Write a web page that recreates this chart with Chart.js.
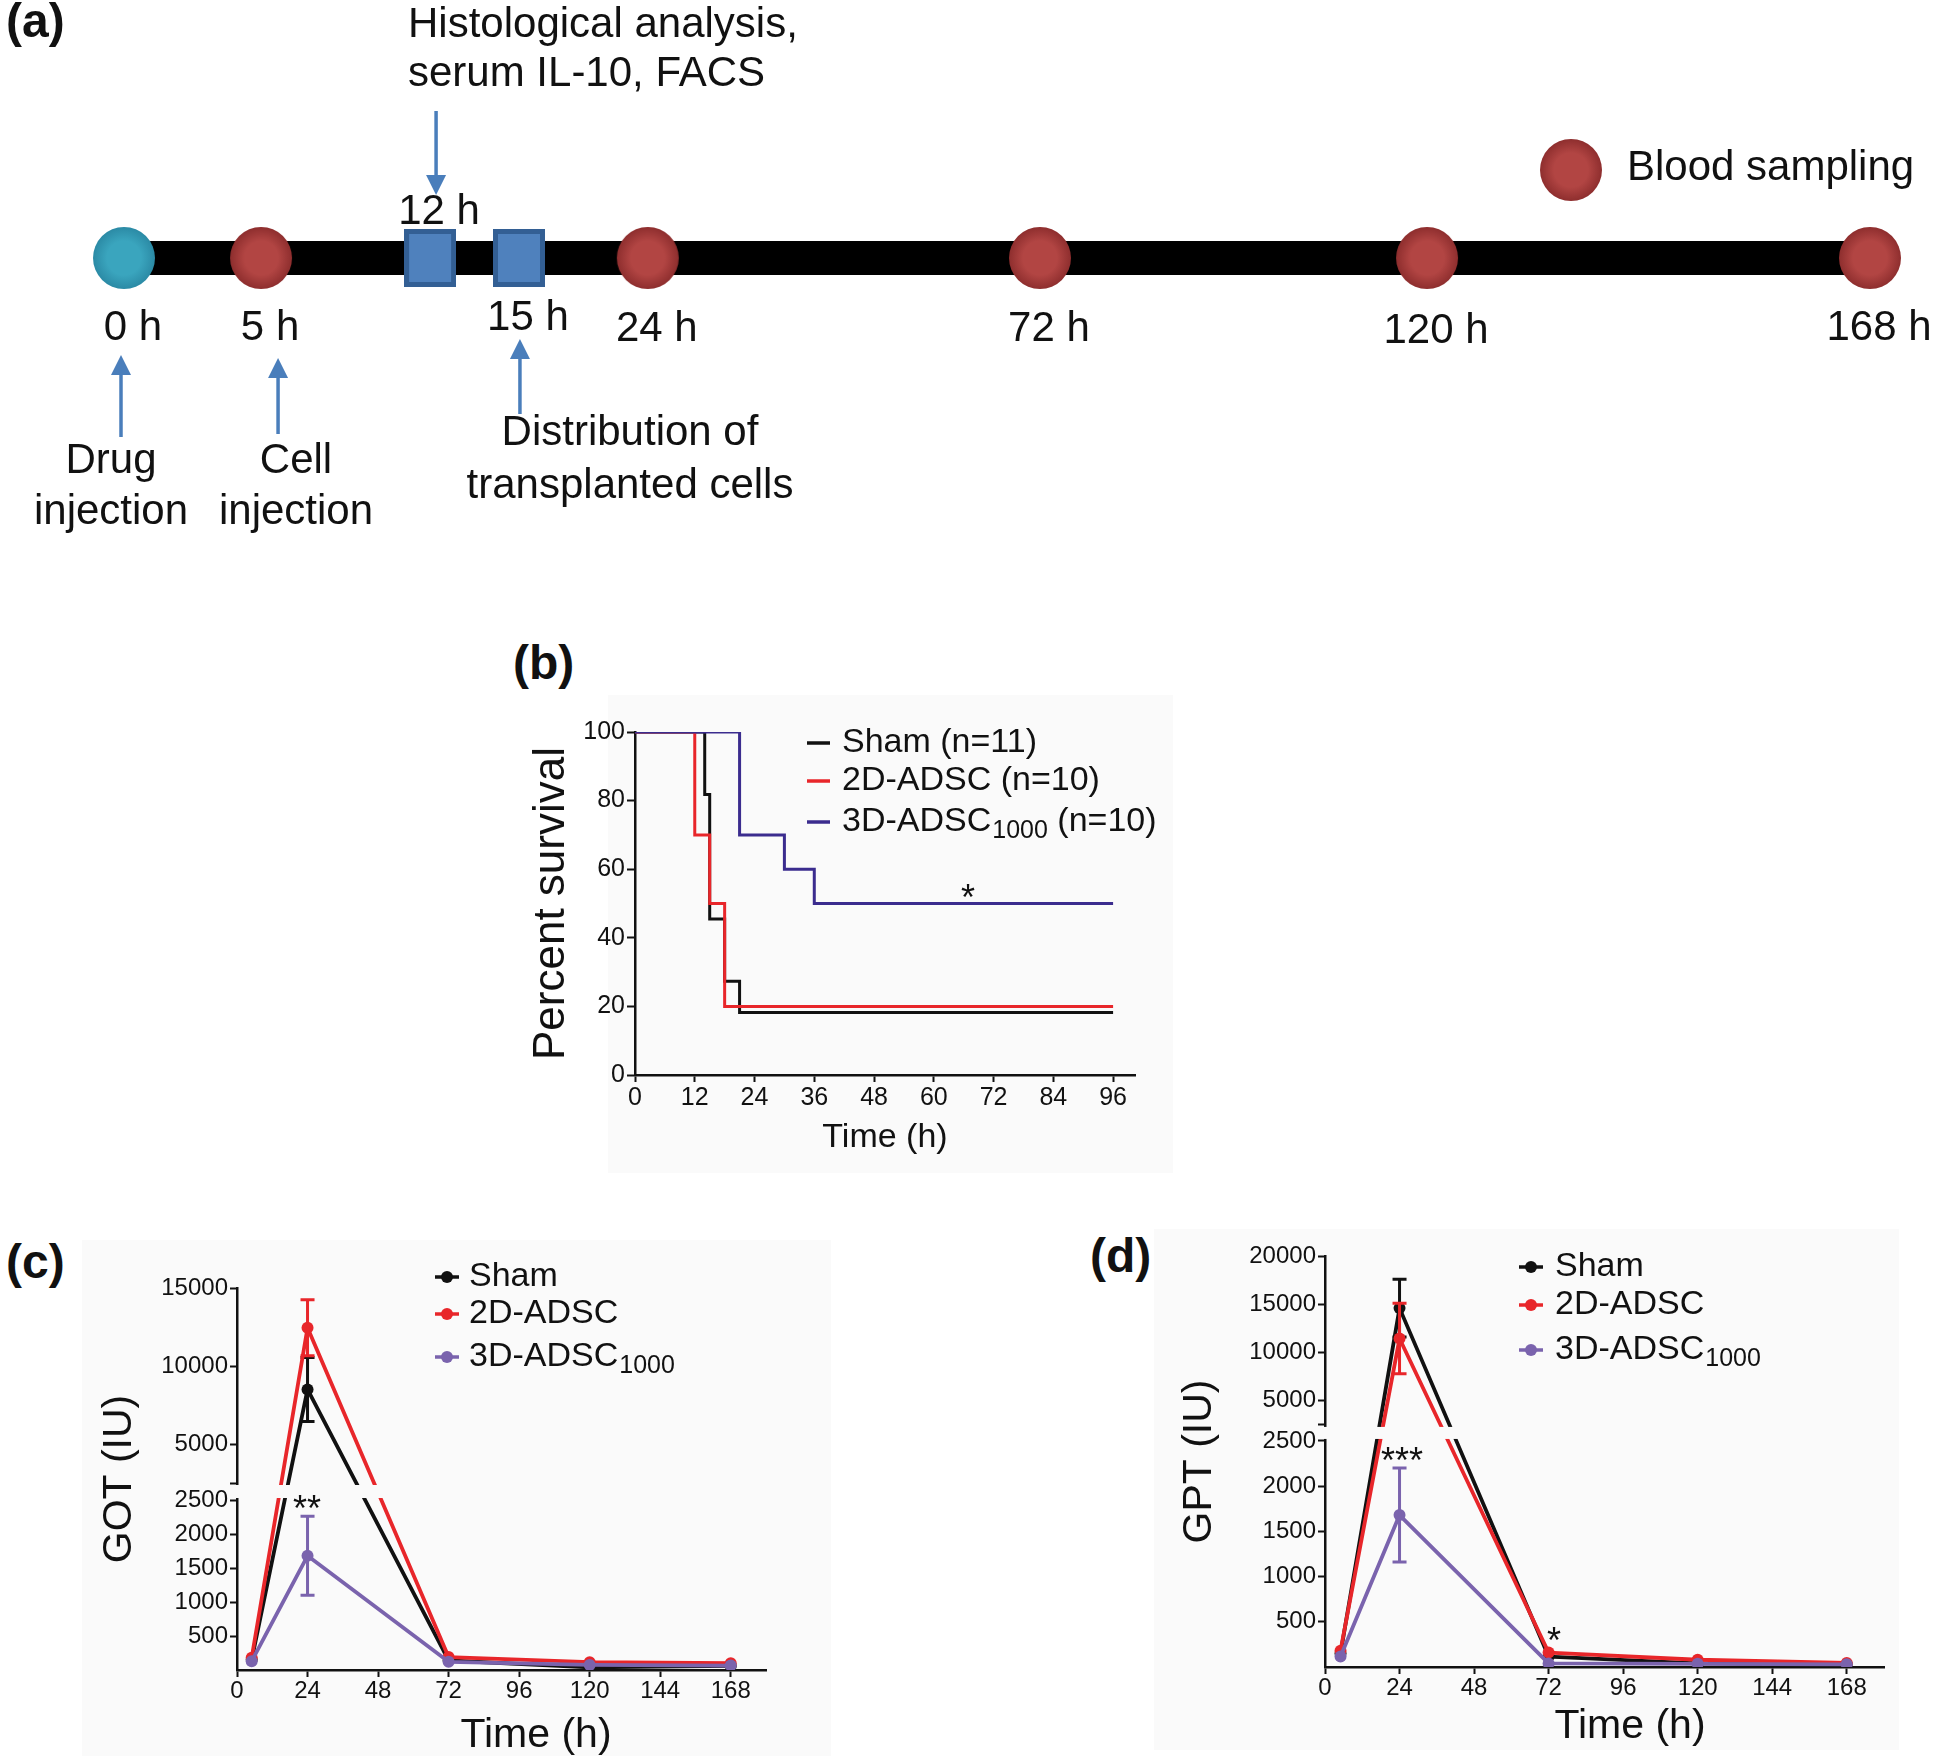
<!DOCTYPE html>
<html>
<head>
<meta charset="utf-8">
<script src="https://cdn.jsdelivr.net/npm/chart.js@4.4.1/dist/chart.umd.min.js"></script>
<style>
  html, body { margin: 0; padding: 0; background: #fff; }
  #fig { position: relative; width: 1946px; height: 1764px; overflow: hidden; background: #fff;
         font-family: "Liberation Sans", Arial, sans-serif; }
  .box { position: absolute; background: #fafafa; }
  canvas { position: absolute; }
  .tag { position: absolute; font-weight: bold; font-size: 48px; line-height: 48px; color: #111; }
</style>
</head>
<body>
<div id="fig">
  <div class="box" style="left:608px;top:695px;width:565px;height:478px"></div>
  <div class="box" style="left:82px;top:1240px;width:749px;height:516px"></div>
  <div class="box" style="left:1154px;top:1229px;width:745px;height:521px"></div>

  <canvas id="cA" width="1946" height="560" style="left:0;top:0"></canvas>
  <canvas id="cB" width="660" height="458" style="left:525px;top:700px"></canvas>
  <canvas id="cC" width="745" height="511" style="left:95px;top:1250px"></canvas>
  <canvas id="cD" width="765" height="527" style="left:1175px;top:1225px"></canvas>

  <div class="tag" style="left:6px;top:-3px">(a)</div>
  <div class="tag" style="left:513px;top:639px">(b)</div>
  <div class="tag" style="left:6px;top:1238px">(c)</div>
  <div class="tag" style="left:1090px;top:1232px">(d)</div>
</div>

<script>
// ---------- data ----------
// (a) timeline of the protocol
const eventHours = [0, 5, 12, 15, 24, 72, 120, 168];
const eventTrackPos = [0, 7.85, 17.53, 22.62, 30.0, 52.46, 74.63, 100]; // where each event sits on the drawn bar (% of bar)
const eventKind = ['drug', 'blood', 'assay', 'assay', 'blood', 'blood', 'blood', 'blood'];

// (b) Kaplan-Meier survival
const survTimeSham = [0, 14, 15, 18, 21, 96];
const survSham = [100, 81.8, 45.5, 27.3, 18.2, 18.2];
const survTime2D = [0, 12, 15, 18, 96];
const surv2D = [100, 70, 50, 20, 20];
const survTime3D = [0, 21, 30, 36, 96];
const surv3D = [100, 70, 60, 50, 50];
const survLegend = ['Sham (n=11)', '2D-ADSC (n=10)', '3D-ADSC_1000 (n=10)'];
const survXTicks = [0, 12, 24, 36, 48, 60, 72, 84, 96];
const survYTicks = [0, 20, 40, 60, 80, 100];

// (c) GOT and (d) GPT, mean and SEM
const sampleHours = [5, 24, 72, 120, 168];
const groupLegend = ['Sham', '2D-ADSC', '3D-ADSC_1000'];
const gotSham = [150, 8500, 140, 40, 60];
const gotShamSem = [0, 2050, 0, 0, 0];
const got2D = [180, 12450, 190, 115, 100];
const got2DSem = [0, 1800, 0, 0, 0];
const got3D = [130, 1680, 120, 75, 65];
const got3DSem = [0, 580, 0, 0, 0];
const gptSham = [150, 14600, 115, 40, 30];
const gptShamSem = [0, 3000, 0, 0, 0];
const gpt2D = [180, 11450, 160, 80, 45];
const gpt2DSem = [0, 3650, 0, 0, 0];
const gpt3D = [115, 1680, 40, 35, 30];
const gpt3DSem = [0, 520, 0, 0, 0];
const hourTicks = [0, 24, 48, 72, 96, 120, 144, 168];
const gotYTicks = [500, 1000, 1500, 2000, 2500, 5000, 10000, 15000];
const gptYTicks = [500, 1000, 1500, 2000, 2500, 5000, 10000, 15000, 20000];

// ---------- look ----------
const FONT = '"Liberation Sans", Arial, sans-serif';
const INK = '#111111';
const RED = '#e8262a';
const PURPLE = '#7a63ad';
const NAVY = '#3b2c8e';
const ARROW = '#4a7ebb';
const BOX_BG = '#fafafa';

Chart.defaults.font.family = FONT;
Chart.defaults.color = INK;
Chart.defaults.animation = false;
Chart.defaults.plugins.legend.display = false;
Chart.defaults.plugins.tooltip.enabled = false;

// y scale with a break: lower part [min, lowMax], upper part [upMin, max]
class BrokenLinearScale extends Chart.LinearScale {
  getPixelForValue(v) {
    if (v === null || v === undefined || isNaN(v)) return NaN;
    const o = this.options;
    let d;
    if (v <= o.lowMax) d = (v - this.min) / (o.lowMax - this.min) * o.lowFrac;
    else d = o.upFrac + (v - o.upMin) / (this.max - o.upMin) * (1 - o.upFrac);
    return this.getPixelForDecimal(d);
  }
  getValueForPixel(p) {
    const o = this.options;
    const d = this.getDecimalForPixel(p);
    if (d <= o.lowFrac) return this.min + d / o.lowFrac * (o.lowMax - this.min);
    return o.upMin + (d - o.upFrac) / (1 - o.upFrac) * (this.max - o.upMin);
  }
}
BrokenLinearScale.id = 'brokenLinear';
BrokenLinearScale.defaults = Chart.LinearScale.defaults;
Chart.register(BrokenLinearScale);

function toXY(xs, ys) { return xs.map((x, i) => ({ x: x, y: ys[i] })); }

function axis(opts) {
  return Object.assign({
    grid: { drawOnChartArea: false, drawTicks: true, tickLength: 7, tickWidth: 2, color: INK },
    border: { display: true, color: INK, width: 2.5 },
  }, opts);
}

function drawLabel(ctx, text, x, y, size) {
  const m = text.match(/^(.*?)_(\d+)(.*)$/);
  ctx.textAlign = 'left';
  ctx.textBaseline = 'middle';
  ctx.font = size + 'px ' + FONT;
  if (!m) { ctx.fillText(text, x, y); return; }
  ctx.fillText(m[1], x, y);
  const w1 = ctx.measureText(m[1]).width + 1;
  ctx.font = Math.round(size * 0.73) + 'px ' + FONT;
  ctx.fillText(m[2], x + w1, y + size * 0.27);
  const w2 = ctx.measureText(m[2]).width;
  ctx.font = size + 'px ' + FONT;
  ctx.fillText(m[3], x + w1 + w2, y);
}

function legendPlugin(ox, oy, labels, colors, markX, textX, rows, dot) {
  return {
    id: 'groupLegend',
    afterDraw(chart) {
      const ctx = chart.ctx;
      ctx.save();
      labels.forEach((lab, i) => {
        const y = rows[i] - oy;
        ctx.strokeStyle = colors[i];
        ctx.fillStyle = colors[i];
        ctx.lineWidth = 3.5;
        ctx.beginPath();
        ctx.moveTo(markX[0] - ox, y);
        ctx.lineTo(markX[1] - ox, y);
        ctx.stroke();
        if (dot) {
          ctx.beginPath();
          ctx.arc((markX[0] + markX[1]) / 2 - ox, y, 6, 0, Math.PI * 2);
          ctx.fill();
        }
        ctx.fillStyle = INK;
        drawLabel(ctx, lab, textX - ox, y, 34);
      });
      ctx.restore();
    }
  };
}

function starPlugin(ox, oy, stars) {
  return {
    id: 'stars',
    afterDraw(chart) {
      const ctx = chart.ctx;
      ctx.save();
      ctx.fillStyle = INK;
      ctx.font = '36px ' + FONT;
      ctx.textAlign = 'center';
      ctx.textBaseline = 'alphabetic';
      stars.forEach(s => ctx.fillText(s[0], s[1] - ox, s[2] - oy + 21));
      ctx.restore();
    }
  };
}

// x-axis title placed off-centre, as in the figure
function xTitlePlugin(ox, oy, text, x, y, size) {
  return {
    id: 'xTitle',
    afterDraw(chart) {
      const ctx = chart.ctx;
      ctx.save();
      ctx.fillStyle = INK;
      ctx.font = size + 'px ' + FONT;
      ctx.textAlign = 'center';
      ctx.textBaseline = 'middle';
      ctx.fillText(text, x - ox, y - oy);
      ctx.restore();
    }
  };
}

const semPlugin = {
  id: 'sem',
  afterDatasetDraw(chart, args) {
    const ds = chart.data.datasets[args.index];
    if (!ds.sem) return;
    const xs = chart.scales.x, ys = chart.scales.y, ctx = chart.ctx;
    ctx.save();
    ctx.strokeStyle = ds.borderColor;
    ctx.lineWidth = 3;
    ds.sem.forEach((e, i) => {
      if (!e) return;
      const p = ds.data[i];
      const x = xs.getPixelForValue(p.x);
      const t = ys.getPixelForValue(p.y + e);
      const b = ys.getPixelForValue(p.y - e);
      ctx.beginPath();
      ctx.moveTo(x, t); ctx.lineTo(x, b);
      ctx.moveTo(x - 7, t); ctx.lineTo(x + 7, t);
      ctx.moveTo(x - 7, b); ctx.lineTo(x + 7, b);
      ctx.stroke();
    });
    ctx.restore();
  }
};

// blank band where the y axis is broken
const gapPlugin = {
  id: 'gap',
  afterDatasetsDraw(chart) {
    const ys = chart.scales.y, o = ys.options, ctx = chart.ctx;
    const yLow = ys.getPixelForValue(o.lowMax);
    const yUp = ys.getPixelForValue(o.upMin + 0.5);
    ctx.save();
    ctx.fillStyle = BOX_BG;
    ctx.fillRect(ys.right - 5, yUp + 2, chart.chartArea.right - ys.right + 10, yLow - yUp - 4);
    ctx.restore();
  }
};

// ---------- (a) timeline ----------
function ball(r, inner, outer) {
  const c = document.createElement('canvas');
  c.width = c.height = 2 * r + 2;
  const g = c.getContext('2d');
  const gr = g.createRadialGradient(r + 1, r + 1, 0, r + 1, r + 1, r);
  gr.addColorStop(0, inner);
  gr.addColorStop(0.55, inner);
  gr.addColorStop(1, outer);
  g.fillStyle = gr;
  g.beginPath();
  g.arc(r + 1, r + 1, r, 0, Math.PI * 2);
  g.fill();
  return c;
}
function block(w, h) {
  const c = document.createElement('canvas');
  c.width = w; c.height = h;
  const g = c.getContext('2d');
  g.fillStyle = '#335f94';
  g.fillRect(0, 0, w, h);
  g.fillStyle = '#4f81bd';
  g.fillRect(5, 5, w - 10, h - 10);
  return c;
}
const redBall = ball(31, '#b24543', '#8e2e2e');
const tealBall = ball(31, '#3aa5be', '#2b8aa5');
const assayBlock = block(52, 58);

function eventsOf(kind) {
  const out = [];
  eventKind.forEach((k, i) => { if (k === kind) out.push({ x: eventTrackPos[i], y: 0 }); });
  return out;
}

function arrow(ctx, x, yFrom, yTo) {
  const dir = Math.sign(yTo - yFrom), head = 20, half = 10;
  ctx.strokeStyle = ARROW; ctx.fillStyle = ARROW; ctx.lineWidth = 3.5;
  ctx.beginPath(); ctx.moveTo(x, yFrom); ctx.lineTo(x, yTo - dir * head); ctx.stroke();
  ctx.beginPath(); ctx.moveTo(x, yTo); ctx.lineTo(x - half, yTo - dir * head);
  ctx.lineTo(x + half, yTo - dir * head); ctx.closePath(); ctx.fill();
}

const timelineNotes = {
  id: 'timelineNotes',
  afterDraw(chart) {
    const ctx = chart.ctx, xs = chart.scales.x, ys = chart.scales.y;
    const trackY = ys.getPixelForValue(0);
    const labelDy = [70, 70, -46, 60, 71, 71, 73, 70];
    ctx.save();
    ctx.fillStyle = INK;
    ctx.font = '42px ' + FONT;
    ctx.textAlign = 'center';
    ctx.textBaseline = 'middle';
    eventHours.forEach((h, i) => {
      ctx.fillText(h + ' h', xs.getPixelForValue(eventTrackPos[i]) + 9, trackY + labelDy[i]);
    });
    ctx.fillText('Drug', 111, 461);
    ctx.fillText('injection', 111, 512);
    ctx.fillText('Cell', 296, 461);
    ctx.fillText('injection', 296, 512);
    ctx.fillText('Distribution of', 630, 433);
    ctx.fillText('transplanted cells', 630, 486);
    ctx.textAlign = 'left';
    ctx.fillText('Histological analysis,', 408, 25);
    ctx.fillText('serum IL-10, FACS', 408, 74);
    ctx.fillText('Blood sampling', 1627, 168);
    ctx.drawImage(redBall, 1571 - redBall.width / 2, 170 - redBall.height / 2);

    const px = i => xs.getPixelForValue(eventTrackPos[i]);
    arrow(ctx, px(0) - 3, 437, 355);
    arrow(ctx, px(1) + 17, 434, 358);
    arrow(ctx, px(2) + 6, 111, 195);
    arrow(ctx, px(3) + 1, 414, 339);
    ctx.restore();
  }
};

new Chart(document.getElementById('cA'), {
  type: 'scatter',
  data: {
    datasets: [
      { type: 'line', data: [{ x: eventTrackPos[0], y: 0 }, { x: eventTrackPos[eventTrackPos.length - 1], y: 0 }],
        borderColor: '#000', borderWidth: 34, borderCapStyle: 'butt', pointRadius: 0, clip: false, order: 5 },
      { data: eventsOf('assay'), pointStyle: assayBlock, pointRadius: 28, clip: false, order: 2 },
      { data: eventsOf('blood'), pointStyle: redBall, pointRadius: 30, clip: false, order: 1 },
      { data: eventsOf('drug'), pointStyle: tealBall, pointRadius: 30, clip: false, order: 1 }
    ]
  },
  options: {
    responsive: false,
    layout: { autoPadding: false, padding: { left: 124, right: 76, top: 0, bottom: 44 } },
    scales: {
      x: { type: 'linear', display: false, min: 0, max: 100 },
      y: { type: 'linear', display: false, min: -1, max: 1 }
    }
  },
  plugins: [timelineNotes]
});

// ---------- (b) survival ----------
new Chart(document.getElementById('cB'), {
  type: 'line',
  data: {
    datasets: [
      { label: 'Sham', data: toXY(survTimeSham, survSham), borderColor: INK, stepped: true, order: 3 },
      { label: '2D-ADSC', data: toXY(survTime2D, surv2D), borderColor: RED, stepped: true, order: 2 },
      { label: '3D-ADSC1000', data: toXY(survTime3D, surv3D), borderColor: NAVY, stepped: true, order: 1 }
    ]
  },
  options: {
    responsive: false,
    layout: { autoPadding: false, padding: { top: 32, right: 50, left: 0, bottom: 0 } },
    elements: { line: { borderWidth: 3 }, point: { radius: 0 } },
    scales: {
      x: axis({
        type: 'linear', min: 0, max: 100.4,
        afterBuildTicks: s => { s.ticks = survXTicks.map(v => ({ value: v })); },
        afterFit: s => { s.height = 83; },
        ticks: { font: { size: 25 }, color: INK, padding: 1, maxRotation: 0, autoSkip: false, callback: v => String(v) },
        title: { display: true, text: 'Time (h)', font: { size: 34 }, color: INK, padding: 0 }
      }),
      y: axis({
        type: 'linear', min: 0, max: 100,
        afterBuildTicks: s => { s.ticks = survYTicks.map(v => ({ value: v })); },
        afterFit: s => { s.width = 110; },
        ticks: { font: { size: 25 }, color: INK, padding: 2, autoSkip: false, callback: v => String(v) },
        grid: { drawOnChartArea: false, drawTicks: true, tickLength: 8, tickWidth: 2, color: INK },
        title: { display: true, text: 'Percent survival', font: { size: 44 }, color: INK, padding: 0 }
      })
    }
  },
  plugins: [
    legendPlugin(525, 700, survLegend, [INK, RED, NAVY], [807, 830], 842, [743, 781, 822], false),
    starPlugin(525, 700, [['*', 968, 889]])
  ]
});

// ---------- (c) GOT, (d) GPT ----------
function enzymeChart(id, ox, oy, box, yMax, yTicks, frac, title, series, legendPos, stars, xTitleAt) {
  const colors = [INK, RED, PURPLE];
  new Chart(document.getElementById(id), {
    type: 'line',
    data: {
      datasets: series.map((s, i) => ({
        label: groupLegend[i].replace('_', ''),
        data: toXY(sampleHours, s[0]),
        sem: s[1],
        borderColor: colors[i],
        backgroundColor: colors[i],
        pointBackgroundColor: colors[i],
        order: 3 - i
      }))
    },
    options: {
      responsive: false,
      layout: { autoPadding: false, padding: { top: box.top, right: box.right, left: 0, bottom: 0 } },
      elements: {
        line: { borderWidth: 3.8, tension: 0, borderJoinStyle: 'round' },
        point: { radius: 6, borderWidth: 0 }
      },
      scales: {
        x: axis({
          type: 'linear', min: 0, max: 180,
          afterBuildTicks: s => { s.ticks = hourTicks.map(v => ({ value: v })); },
          afterFit: s => { s.height = box.xh; },
          ticks: { font: { size: 24 }, color: INK, padding: 0, maxRotation: 0, autoSkip: false, callback: v => String(v) },
          title: { display: false }
        }),
        y: axis({
          type: 'brokenLinear', min: 0, max: yMax,
          lowMax: 2500, upMin: 2500, lowFrac: frac[0], upFrac: frac[1],
          afterBuildTicks: s => { s.ticks = yTicks.concat([2500.5]).sort((a, b) => a - b).map(v => ({ value: v })); },
          afterFit: s => { s.width = box.yw; },
          ticks: { font: { size: 24 }, color: INK, padding: 2, autoSkip: false, callback: v => (v % 1 ? '' : String(v)) },
          title: { display: true, text: title, font: { size: 41 }, color: INK, padding: 0 }
        })
      }
    },
    plugins: [
      semPlugin, gapPlugin,
      legendPlugin(ox, oy, groupLegend, colors, legendPos.mark, legendPos.text, legendPos.rows, true),
      starPlugin(ox, oy, stars),
      xTitlePlugin(ox, oy, 'Time (h)', xTitleAt[0], xTitleAt[1], 41)
    ]
  });
}

enzymeChart('cC', 95, 1250, { top: 38, right: 74, xh: 91, yw: 142 }, 15000, gotYTicks, [0.445, 0.4895], 'GOT (IU)',
  [[gotSham, gotShamSem], [got2D, got2DSem], [got3D, got3DSem]],
  { mark: [435, 459], text: 469, rows: [1277, 1314, 1357] },
  [['**', 307, 1500]], [536, 1736]);

enzymeChart('cD', 1175, 1225, { top: 31, right: 56, xh: 85, yw: 150 }, 20000, gptYTicks, [0.55, 0.589], 'GPT (IU)',
  [[gptSham, gptShamSem], [gpt2D, gpt2DSem], [gpt3D, gpt3DSem]],
  { mark: [1519, 1543], text: 1555, rows: [1267, 1305, 1350] },
  [['***', 1402, 1452], ['*', 1554, 1632]], [1630, 1727]);
</script>
</body>
</html>
